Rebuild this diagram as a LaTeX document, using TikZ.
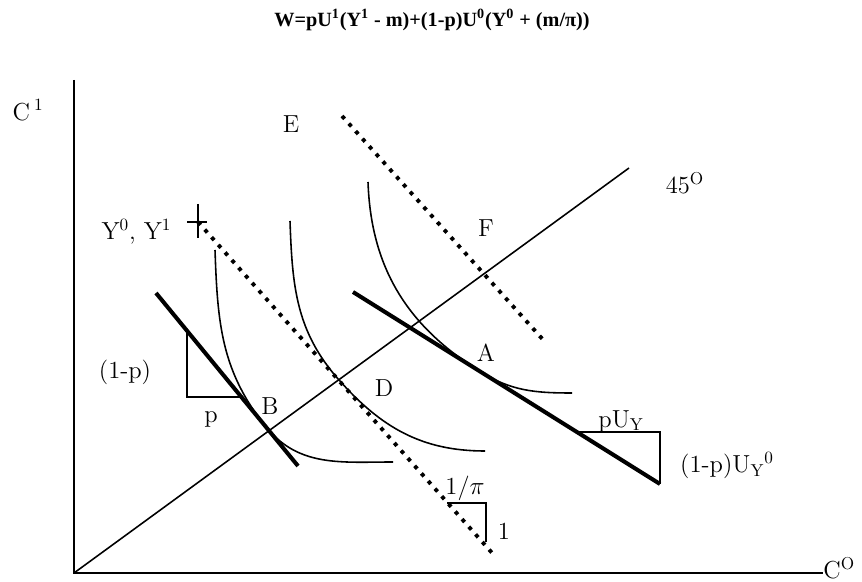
\documentclass[tikz,border=0pt]{standalone}
\usepackage{amsmath,amssymb}
\usepackage{fontspec}
\newfontfamily\titlefont{Liberation Serif}
\usepackage{tikz}
\usetikzlibrary{arrows.meta, positioning, calc}

\begin{document}
\begin{tikzpicture}[
  axisline/.style={line width=1.4pt},
  budget/.style={line width=2.3pt},
  indiff/.style={line width=0.9pt},
  isoline/.style={line width=2.2pt, dash pattern=on 2.2pt off 3.6pt},
  slopetri/.style={line width=1.1pt},
  lbl/.style={font=\fontsize{14}{16}\selectfont, inner sep=1pt}
]
  \useasboundingbox (0,0) rectangle (17.24,11.64);

  \coordinate (o) at (1.48,0.18);
  \coordinate (ytop) at (1.48,10.04);
  \coordinate (xend) at (16.46,0.18);
  \coordinate (diag) at (12.58,8.28);

  \node[font=\titlefont\bfseries\fontsize{11.5}{14}\selectfont] (title) at (8.64,11.24)
    {W=pU\textsuperscript{1}(Y\textsuperscript{1} - m)+(1-p)U\textsuperscript{0}(Y\textsuperscript{0} + (m/π))};

  \node[lbl] (c1) at (0.56,9.44) {C\,\textsuperscript{1}};
  \node[lbl, anchor=south west, inner sep=0pt] (c0) at (16.46,0.05) {C\textsuperscript{O}};
  \node[lbl] (deg) at (13.7,7.98) {45\textsuperscript{O}};
  \node[lbl] (endow) at (2.73,7.0) {Y\textsuperscript{0}, Y\textsuperscript{1}};
  \node[lbl] (lblE) at (5.82,9.16) {E};
  \node[lbl] (lblF) at (9.72,7.08) {F};
  \node[lbl] (lblA) at (9.72,4.58) {A};
  \node[lbl] (lblB) at (5.4,3.52) {B};
  \node[lbl] (lblD) at (7.68,3.88) {D};
  \node[lbl] (oneminusp) at (2.5,4.2) {(1-p)};
  \node[lbl] (lblp) at (4.22,3.26) {p};
  \node[lbl] (puy) at (12.42,3.22) {pU\textsubscript{Y}};
  \node[lbl] (quy) at (14.54,2.34) {(1-p)U\textsubscript{Y}\textsuperscript{0}};
  \node[lbl] (invpi) at (9.3,1.88) {1/$\pi$};
  \node[lbl] (one) at (10.08,1.02) {1};

  \draw[axisline] (ytop) -- (o) -- (xend);
  \draw[line width=0.9pt] (o) -- (diag);

  \coordinate (e1) at (6.84,9.32);
  \coordinate (e2) at (10.92,4.78);
  \draw[isoline] (e1) -- (e2);

  \coordinate (k0) at (3.96,7.2);
  \coordinate (k1) at (9.86,0.56);
  \draw[isoline] (k0) -- (k1);
  \draw[line width=1.4pt] (3.96,7.56) -- (3.96,6.88) (3.74,7.2) -- (4.14,7.2);

  \coordinate (b1) at (3.12,5.78);
  \coordinate (b2) at (5.96,2.32);
  \draw[budget] (b1) -- (b2);

  \coordinate (a1) at (7.06,5.8);
  \coordinate (a2) at (13.2,1.96);
  \draw[budget] (a1) -- (a2);

  \draw[slopetri] (3.74,5.0) -- (3.74,3.7) -- (4.8,3.7);
  \draw[slopetri] (11.54,3.0) -- (13.2,3.0) -- (a2);
  \draw[slopetri] (8.94,1.58) -- (9.72,1.58) -- (9.72,0.8);

  \coordinate (i1a) at (4.3,6.64);
  \coordinate (i1t) at (5.34,3.08);
  \coordinate (i1b) at (7.86,2.4);
  \draw[indiff] (i1a) to[out=-88,in=129.4] (i1t) to[out=-50.6,in=180] (i1b);

  \coordinate (i2a) at (5.8,7.22);
  \coordinate (i2t) at (6.78,4.04);
  \coordinate (i2b) at (9.7,2.62);
  \draw[indiff] (i2a) to[out=-88,in=131.6] (i2t) to[out=-48.4,in=180] (i2b);

  \coordinate (i3a) at (7.36,8.0);
  \coordinate (i3t) at (9.6,4.21);
  \coordinate (i3b) at (11.44,3.78);
  \draw[indiff] (i3a) to[out=-88,in=148] (i3t) to[out=-32,in=180] (i3b);
\end{tikzpicture}
\end{document}
